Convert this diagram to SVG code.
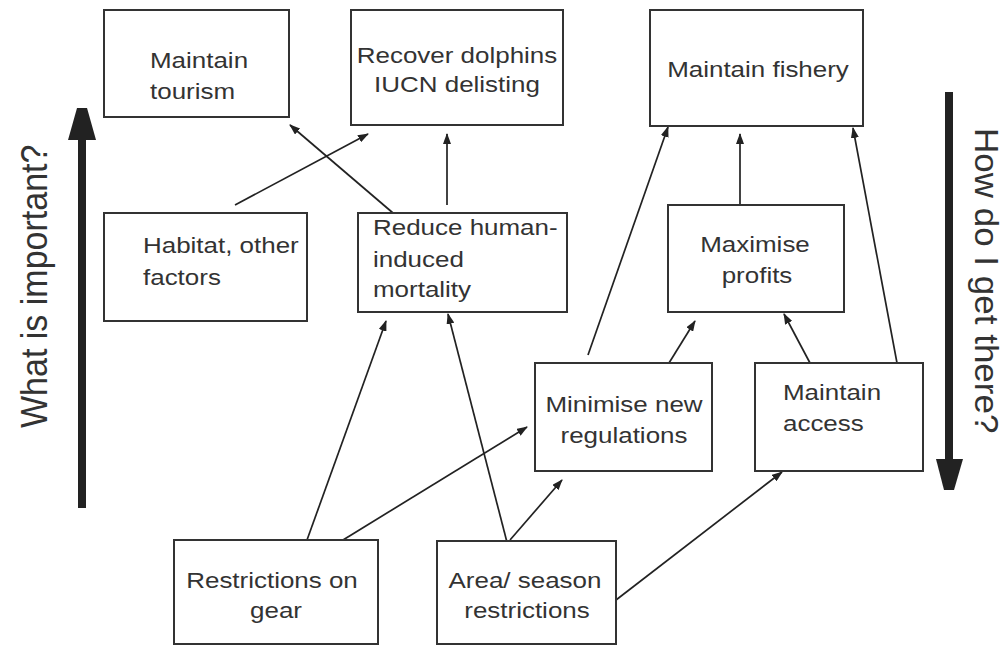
<svg xmlns="http://www.w3.org/2000/svg" width="1005" height="646" viewBox="0 0 1005 646">
<style>
.box{fill:#fff;stroke:#333;stroke-width:2}
.t{font-family:"Liberation Sans",Arial,sans-serif;font-size:22px;fill:#333}
.m{text-anchor:middle}
.c{stroke:#222;stroke-width:1.7;fill:none;marker-end:url(#ah)}
.big{font-family:"Liberation Sans",Arial,sans-serif;fill:#333}
</style>
<defs>
<marker id="ah" markerUnits="userSpaceOnUse" markerWidth="11" markerHeight="8" refX="10" refY="4" orient="auto">
<path d="M0,0 L11,4 L0,8 z" fill="#222"/>
</marker>
</defs>
<rect width="1005" height="646" fill="#fff"/>

<g id="axis-left">
<rect x="78" y="138" width="8" height="370" fill="#222"/>
<polygon points="77,108 87,108 96,140 68,140" fill="#222"/>
<text class="big" font-size="34" transform="translate(47 428) rotate(-90) scale(1 1.1)">What is important?</text>
</g>
<g id="axis-right">
<rect x="945" y="92" width="8" height="368" fill="#222"/>
<polygon points="936,459 963,459 954,490 944,490" fill="#222"/>
<text class="big" font-size="35" transform="translate(975 128) rotate(90) scale(1 0.97)">How do I get there?</text>
</g>

<g id="connectors">
<line class="c" x1="393" y1="213" x2="290" y2="125"/>
<line class="c" x1="235" y1="205" x2="368" y2="134"/>
<line class="c" x1="447" y1="205" x2="447" y2="134"/>
<line class="c" x1="307" y1="540" x2="386" y2="321"/>
<line class="c" x1="343" y1="540" x2="527" y2="427"/>
<line class="c" x1="509" y1="550" x2="448" y2="314"/>
<line class="c" x1="510" y1="540" x2="562" y2="480"/>
<line class="c" x1="616" y1="600" x2="782" y2="472"/>
<line class="c" x1="588" y1="355" x2="668" y2="127"/>
<line class="c" x1="669" y1="363" x2="695" y2="321"/>
<line class="c" x1="810" y1="363" x2="784" y2="314"/>
<line class="c" x1="897" y1="363" x2="853" y2="128"/>
<line class="c" x1="740" y1="205" x2="740" y2="134"/>
</g>

<g id="maintain-tourism">
<rect class="box" x="104" y="10" width="185" height="107"/>
<text class="t" transform="translate(150 68) scale(1.18 1)">Maintain</text>
<text class="t" transform="translate(150 99) scale(1.18 1)">tourism</text>
</g>
<g id="recover-dolphins">
<rect class="box" x="351" y="10" width="212" height="115"/>
<text class="t m" transform="translate(457 63) scale(1.18 1)">Recover dolphins</text>
<text class="t m" transform="translate(457 92) scale(1.18 1)">IUCN delisting</text>
</g>
<g id="maintain-fishery">
<rect class="box" x="650" y="10" width="213" height="116"/>
<text class="t m" transform="translate(758 77) scale(1.18 1)">Maintain fishery</text>
</g>
<g id="habitat">
<rect class="box" x="104" y="213" width="203" height="108"/>
<text class="t" transform="translate(143 253) scale(1.18 1)">Habitat, other</text>
<text class="t" transform="translate(143 285) scale(1.18 1)">factors</text>
</g>
<g id="reduce-mortality">
<rect class="box" x="358" y="213" width="209" height="99"/>
<text class="t" transform="translate(373 235) scale(1.18 1)">Reduce human-</text>
<text class="t" transform="translate(373 267) scale(1.18 1)">induced</text>
<text class="t" transform="translate(373 297) scale(1.18 1)">mortality</text>
</g>
<g id="maximise-profits">
<rect class="box" x="668" y="205" width="176" height="107"/>
<text class="t m" transform="translate(755 252) scale(1.18 1)">Maximise</text>
<text class="t m" transform="translate(757 283) scale(1.18 1)">profits</text>
</g>
<g id="minimise-regulations">
<rect class="box" x="535" y="363" width="177" height="108"/>
<text class="t m" transform="translate(624 412) scale(1.18 1)">Minimise new</text>
<text class="t m" transform="translate(624 443) scale(1.18 1)">regulations</text>
</g>
<g id="maintain-access">
<rect class="box" x="755" y="363" width="168" height="108"/>
<text class="t" transform="translate(783 400) scale(1.18 1)">Maintain</text>
<text class="t" transform="translate(783 431) scale(1.18 1)">access</text>
</g>
<g id="restrictions-gear">
<rect class="box" x="174" y="540" width="204" height="104"/>
<text class="t m" transform="translate(272 588) scale(1.18 1)">Restrictions on</text>
<text class="t m" transform="translate(276 618) scale(1.18 1)">gear</text>
</g>
<g id="area-season">
<rect class="box" x="437" y="541" width="179" height="103"/>
<text class="t m" transform="translate(525 588) scale(1.18 1)">Area/ season</text>
<text class="t m" transform="translate(527 618) scale(1.18 1)">restrictions</text>
</g>
</svg>
